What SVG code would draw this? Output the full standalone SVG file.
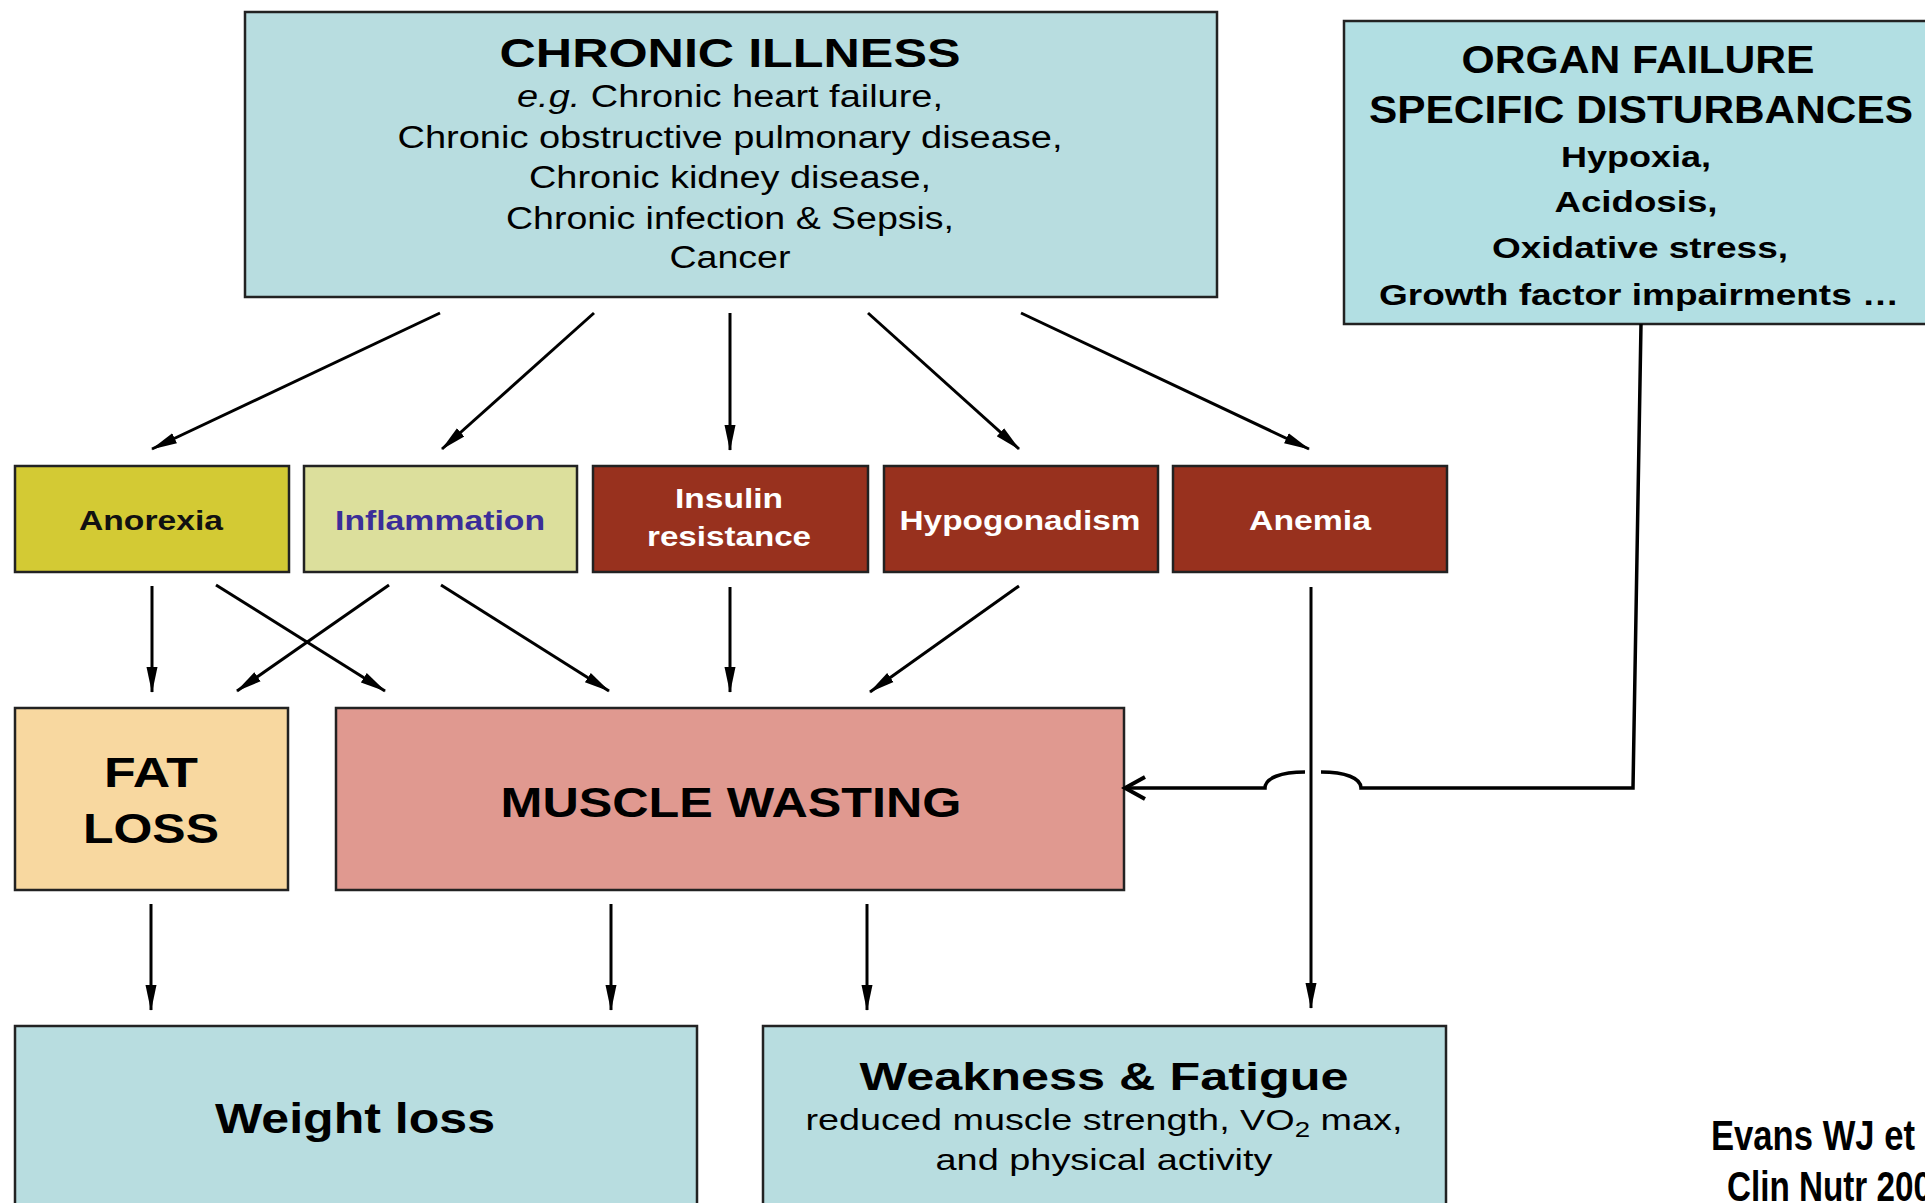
<svg xmlns="http://www.w3.org/2000/svg" width="1925" height="1203" viewBox="0 0 1925 1203">
<style>
text{font-family:"Liberation Sans",Arial,sans-serif;text-anchor:middle}
.b{font-weight:bold}
.box{stroke:#222;stroke-width:2.5}
.ln{stroke:#000;stroke-width:3;fill:none}
.teal{fill:#B8DDE0}
.red{fill:#98311E}
.wt{fill:#fff}
</style>
<defs>
<marker id="arr" markerUnits="userSpaceOnUse" markerWidth="26" markerHeight="14" viewBox="0 0 26 14" refX="25" refY="7" orient="auto"><path d="M0,1.5 L26,7 L0,12.5 z" fill="#000"/></marker>
<marker id="chev" markerUnits="userSpaceOnUse" markerWidth="26" markerHeight="28" viewBox="0 0 26 28" refX="22" refY="14" orient="auto"><path d="M2,3 L22,14 L2,25" fill="none" stroke="#000" stroke-width="4"/></marker>
</defs>
<rect width="1925" height="1203" fill="#fff"/>

<g id="chronic-illness">
<rect class="box teal" x="245" y="12" width="972" height="285"/>
<text class="b" x="730" y="67" font-size="41" textLength="461" lengthAdjust="spacingAndGlyphs">CHRONIC ILLNESS</text>
<text x="730" y="107" font-size="31" textLength="426" lengthAdjust="spacingAndGlyphs"><tspan font-style="italic">e.g.</tspan> Chronic heart failure,</text>
<text x="730" y="148" font-size="31" textLength="665" lengthAdjust="spacingAndGlyphs">Chronic obstructive pulmonary disease,</text>
<text x="730" y="188" font-size="31" textLength="402" lengthAdjust="spacingAndGlyphs">Chronic kidney disease,</text>
<text x="730" y="229" font-size="31" textLength="448" lengthAdjust="spacingAndGlyphs">Chronic infection &amp; Sepsis,</text>
<text x="730" y="268" font-size="31" textLength="121" lengthAdjust="spacingAndGlyphs">Cancer</text>
</g>

<g id="organ-failure">
<rect class="box" fill="#B2DFE3" x="1344" y="21" width="600" height="303"/>
<text class="b" x="1638" y="73" font-size="38" textLength="353" lengthAdjust="spacingAndGlyphs">ORGAN FAILURE</text>
<text class="b" x="1641" y="123" font-size="38" textLength="544" lengthAdjust="spacingAndGlyphs">SPECIFIC DISTURBANCES</text>
<text class="b" x="1636" y="167" font-size="29" textLength="150" lengthAdjust="spacingAndGlyphs">Hypoxia,</text>
<text class="b" x="1636" y="212" font-size="29" textLength="163" lengthAdjust="spacingAndGlyphs">Acidosis,</text>
<text class="b" x="1640" y="258" font-size="29" textLength="296" lengthAdjust="spacingAndGlyphs">Oxidative stress,</text>
<text class="b" x="1639" y="305" font-size="29" textLength="520" lengthAdjust="spacingAndGlyphs">Growth factor impairments …</text>
</g>

<g id="anorexia">
<rect class="box" fill="#D3CA34" x="15" y="466" width="274" height="106"/>
<text class="b" x="151" y="530" font-size="27" fill="#111" textLength="144" lengthAdjust="spacingAndGlyphs">Anorexia</text>
</g>
<g id="inflammation">
<rect class="box" fill="#DCDF9C" x="304" y="466" width="273" height="106"/>
<text class="b" x="440" y="530" font-size="27" fill="#3B2E99" textLength="210" lengthAdjust="spacingAndGlyphs">Inflammation</text>
</g>
<g id="insulin-resistance">
<rect class="box red" x="593" y="466" width="275" height="106"/>
<text class="b wt" x="729" y="508" font-size="27" textLength="108" lengthAdjust="spacingAndGlyphs">Insulin</text>
<text class="b wt" x="729" y="546" font-size="27" textLength="164" lengthAdjust="spacingAndGlyphs">resistance</text>
</g>
<g id="hypogonadism">
<rect class="box red" x="884" y="466" width="274" height="106"/>
<text class="b wt" x="1020" y="530" font-size="27" textLength="241" lengthAdjust="spacingAndGlyphs">Hypogonadism</text>
</g>
<g id="anemia">
<rect class="box red" x="1173" y="466" width="274" height="106"/>
<text class="b wt" x="1310" y="530" font-size="27" textLength="122" lengthAdjust="spacingAndGlyphs">Anemia</text>
</g>

<g id="fat-loss">
<rect class="box" fill="#F8D8A0" x="15" y="708" width="273" height="182"/>
<text class="b" x="151" y="787" font-size="43" textLength="94" lengthAdjust="spacingAndGlyphs">FAT</text>
<text class="b" x="151" y="843" font-size="43" textLength="136" lengthAdjust="spacingAndGlyphs">LOSS</text>
</g>
<g id="muscle-wasting">
<rect class="box" fill="#E09990" x="336" y="708" width="788" height="182"/>
<text class="b" x="731" y="817" font-size="43" textLength="461" lengthAdjust="spacingAndGlyphs">MUSCLE WASTING</text>
</g>

<g id="weight-loss">
<rect class="box teal" x="15" y="1026" width="682" height="200"/>
<text class="b" x="355" y="1133" font-size="43" textLength="280" lengthAdjust="spacingAndGlyphs">Weight loss</text>
</g>
<g id="weakness-fatigue">
<rect class="box teal" x="763" y="1026" width="683" height="200"/>
<text class="b" x="1104" y="1090" font-size="39" textLength="489" lengthAdjust="spacingAndGlyphs">Weakness &amp; Fatigue</text>
<text x="1104" y="1130" font-size="30" textLength="597" lengthAdjust="spacingAndGlyphs">reduced muscle strength, VO<tspan font-size="22" dy="7">2</tspan><tspan dy="-7"> max,</tspan></text>
<text x="1104" y="1170" font-size="30" textLength="337" lengthAdjust="spacingAndGlyphs">and physical activity</text>
</g>

<g id="citation">
<text class="b" x="1711" y="1150" font-size="42" style="text-anchor:start" textLength="204" lengthAdjust="spacingAndGlyphs">Evans WJ et</text>
<text class="b" x="1727" y="1201" font-size="42" style="text-anchor:start" textLength="205" lengthAdjust="spacingAndGlyphs">Clin Nutr 200</text>
</g>

<g id="connectors">
<path class="ln" marker-end="url(#arr)" d="M440,313 L152,449"/>
<path class="ln" marker-end="url(#arr)" d="M594,313 L442,449"/>
<path class="ln" marker-end="url(#arr)" d="M730,313 L730,450"/>
<path class="ln" marker-end="url(#arr)" d="M868,313 L1019,449"/>
<path class="ln" marker-end="url(#arr)" d="M1021,313 L1309,449"/>
<path class="ln" marker-end="url(#arr)" d="M152,586 L152,692"/>
<path class="ln" marker-end="url(#arr)" d="M216,585 L385,691"/>
<path class="ln" marker-end="url(#arr)" d="M389,585 L237,691"/>
<path class="ln" marker-end="url(#arr)" d="M441,585 L609,691"/>
<path class="ln" marker-end="url(#arr)" d="M730,587 L730,692"/>
<path class="ln" marker-end="url(#arr)" d="M1019,586 L870,692"/>
<path class="ln" marker-end="url(#arr)" d="M1311,587 L1311,1008"/>
<path class="ln" marker-end="url(#arr)" d="M151,904 L151,1010"/>
<path class="ln" marker-end="url(#arr)" d="M611,904 L611,1010"/>
<path class="ln" marker-end="url(#arr)" d="M867,904 L867,1010"/>
<path class="ln" style="stroke-width:3.5" d="M1641,324 L1633,788 L1361,788 C1361,778 1345,772 1321,772"/>
<path class="ln" style="stroke-width:3.5" marker-end="url(#chev)" d="M1305,772 C1281,772 1265,778 1265,788 L1125,788"/>
</g>
</svg>
